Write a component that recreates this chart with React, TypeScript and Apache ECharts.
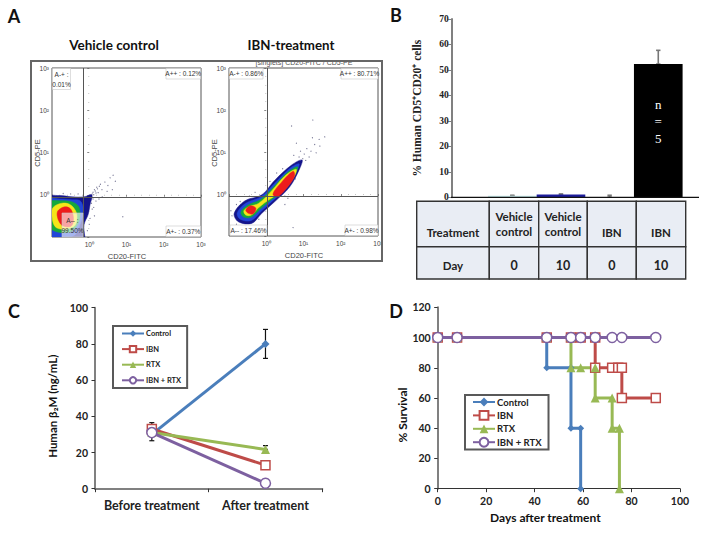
import React, { useEffect, useRef } from "react";
import * as echarts from "echarts";

const SANS = "Lato";
const SERIF = "'Liberation Serif'";
const BLUE = "#4a7ebb";
const RED = "#be4b48";
const GREEN = "#98b954";
const PURPLE = "#7d60a0";

// Panel A: log10 decades, contours of the density plots
const flowTicks: Record<string, string> = { "0": "10⁰", "1": "10¹", "2": "10²", "3": "10³" };
const densityColors = ["#14148a", "#2246d8", "#16a83c", "#f4e61a", "#ee1c1c"];
const vehicleNavy = [[-1.2, -0.07], [-0.79, -0.02], [-0.46, -0.05], [-0.14, -0.05], [0.07, 0], [0.02, -0.24], [-0.03, -0.47], [-0.14, -0.71], [-0.17, -1.2], [-1.2, -1.2]];
const vehicleBlue = [[-1.2, -0.12], [-0.79, -0.1], [-0.46, -0.12], [-0.25, -0.14], [-0.17, -0.28], [-0.17, -0.47], [-0.25, -0.71], [-0.4, -0.96], [-0.8, -1], [-1.2, -0.96]];
const vehicleGreen = [[-1.2, -0.2], [-0.73, -0.14], [-0.46, -0.17], [-0.3, -0.26], [-0.25, -0.4], [-0.28, -0.64], [-0.45, -0.85], [-0.7, -0.9], [-0.95, -0.85], [-1.2, -0.7]];
const vehicleYellow = [[-0.97, -0.3], [-0.73, -0.2], [-0.52, -0.23], [-0.38, -0.36], [-0.33, -0.5], [-0.38, -0.72], [-0.55, -0.8], [-0.72, -0.82], [-0.92, -0.75], [-1, -0.5]];
const vehicleRed = [[-0.84, -0.38], [-0.68, -0.29], [-0.52, -0.32], [-0.44, -0.46], [-0.43, -0.65], [-0.5, -0.75], [-0.7, -0.74], [-0.8, -0.65], [-0.86, -0.5]];
const ibnNavy = [[-0.86, -0.46], [-0.57, -0.16], [-0.12, -0.02], [0.23, 0.33], [0.68, 0.69], [0.96, 0.81], [0.9, 0.61], [0.63, 0.17], [0.23, -0.18], [-0.12, -0.46], [-0.39, -0.7], [-0.75, -0.66]];
const ibnBlue = [[-0.78, -0.45], [-0.55, -0.22], [-0.15, -0.07], [0.22, 0.25], [0.62, 0.6], [0.88, 0.72], [0.82, 0.55], [0.55, 0.15], [0.2, -0.14], [-0.12, -0.4], [-0.4, -0.63], [-0.7, -0.6]];
const ibnGreen = [[-0.68, -0.43], [-0.5, -0.27], [-0.15, -0.13], [0.2, 0.17], [0.55, 0.5], [0.84, 0.65], [0.78, 0.48], [0.5, 0.11], [0.15, -0.13], [-0.15, -0.35], [-0.4, -0.55], [-0.6, -0.55]];
const ibnYellow = [[-0.6, -0.4], [-0.45, -0.3], [-0.2, -0.22], [0.15, 0.08], [0.5, 0.43], [0.8, 0.59], [0.76, 0.43], [0.45, 0.08], [0.1, -0.12], [-0.2, -0.32], [-0.4, -0.5], [-0.55, -0.5]];
const ibnRedUpper = [[0.18, 0], [0.4, 0.27], [0.72, 0.54], [0.76, 0.42], [0.55, 0.14], [0.3, -0.07]];
const ibnRedLower = [[-0.55, -0.38], [-0.42, -0.28], [-0.28, -0.34], [-0.35, -0.47], [-0.48, -0.46]];
const vehicleDots = [[0.1, 0.06], [0.16, 0.09], [0.22, 0.14], [0.27, 0.2], [0.3, 0.25], [0.24, 0.05], [0.34, 0.12], [0.42, 0.3], [0.5, 0.22], [0.56, 0.4], [0.64, 0.46], [0.48, 0.08], [0.35, -0.05], [0.18, -0.15], [0.26, -0.1], [0.9, -0.52], [0.62, 0.12], [0.7, 0.32], [0.12, -0.3], [0.14, -0.5], [0.08, 0.02], [0.12, 0], [0.14, 0.12], [0.18, 0.04], [0.2, 0.18], [0.1, -0.1], [0.06, -0.2], [0.08, -0.34], [0.02, -0.56], [0, -0.7], [-0.05, -0.85], [-0.5, 0.02], [-0.7, 0.03], [-0.3, 0.02]];
const ibnDots = [[1.25, 1.76], [0.68, 1.62], [1.57, 1.36], [1.42, 1.3], [0.81, 1.21], [1.3, 1.18], [1.09, 1.08], [1.2, 1.02], [1.02, 0.95], [1.34, 0.98], [1.15, 0.88], [0.98, 0.84], [1.44, 1.14], [0.92, 1.02], [1.06, 0.8], [0.88, 0.88], [1.24, 1.34], [0.74, 0.92], [0.78, 0.36], [0.58, -0.1], [0.5, -0.25], [0.72, -0.8], [-0.92, -0.52], [-0.95, -0.4], [-0.8, -0.25], [-0.7, -0.18], [-0.45, -0.05], [-0.3, 0.04], [0.1, 0.3], [0.28, 0.5], [0.44, 0.6], [-0.2, -0.6], [-0.55, -0.76], [-0.8, -0.72], [0.5, -0.05]];
const vehicleGate = { x: -0.17, y: -0.07 };
const ibnGate = { x: 0.02, y: -0.05 };

// Panel B
const barValues = [0.6, 1.1, 0.1, 52.3];
const barErrors = [0.8, 1.3, 0.8, 57.7];
const barColors = ["#c6e9e9", "#1c1c9c", "#bdbdbd", "#000000"];
const barCategories = ["Vehicle control day 0", "Vehicle control day 10", "IBN day 0", "IBN day 10"];
const tableHeader = ["Treatment", "Vehicle\ncontrol", "Vehicle\ncontrol", "IBN", "IBN"];
const tableDay = ["Day", "0", "10", "0", "10"];

// Panel C
const phases = ["Before treatment", "After treatment"];
const controlC = [30, 80];
const ibnC = [33, 13];
const rtxC = [31, 21.7];
const comboC = [31, 3];
const errorC = [[0, 26.5, 36.5], [1, 72, 88], [1, 21.7, 23.8]];

// Panel D
const controlD = [[0, 100], [8, 100], [45, 100], [45, 80], [55, 80], [55, 40], [59, 40], [59, 0]];
const ibnD = [[0, 100], [8, 100], [45, 100], [55, 100], [59, 100], [65, 100], [65, 80], [72, 80], [74.5, 80], [76, 80], [76, 60], [90, 60]];
const rtxD = [[0, 100], [8, 100], [45, 100], [55, 100], [55, 80], [59, 80], [65, 80], [65, 60], [72, 60], [72, 40], [75, 40], [75, 0]];
const comboD = [[0, 100], [8, 100], [45, 100], [55, 100], [59, 100], [65, 100], [72, 100], [76, 100], [90, 100]];
const seriesNames = ["Control", "IBN", "RTX", "IBN + RTX"];

const blob = (points: number[][], color: string, idx: number) => ({
  type: "custom",
  xAxisIndex: idx,
  yAxisIndex: idx,
  silent: true,
  clip: true,
  z: 2,
  data: [[points[0][0], points[0][1]]],
  renderItem: (_p: any, api: any) => ({
    type: "polygon",
    shape: { points: points.map((pt) => api.coord(pt)), smooth: 0.35 },
    style: { fill: color, stroke: color, lineWidth: 0.5 },
  }),
});

const gates = (g: { x: number; y: number }, idx: number) => ({
  type: "line",
  xAxisIndex: idx,
  yAxisIndex: idx,
  silent: true,
  symbol: "none",
  data: [],
  z: 4,
  markLine: {
    silent: true,
    symbol: "none",
    animation: false,
    label: { show: false },
    lineStyle: { color: "#555", width: 1, type: "solid" },
    data: [{ xAxis: g.x }, { yAxis: g.y }],
  },
});

const dots = (points: number[][], idx: number) => ({
  type: "scatter",
  xAxisIndex: idx,
  yAxisIndex: idx,
  silent: true,
  symbolSize: 1.2,
  itemStyle: { color: "#55557a" },
  data: points,
  z: 3,
});

const errorBars = (rows: number[][], idx: number, color: string, lineWidth: number, cap: number) => ({
  type: "custom",
  xAxisIndex: idx,
  yAxisIndex: idx,
  silent: true,
  z: 3,
  data: rows,
  renderItem: (_p: any, api: any) => {
    const lo = api.coord([api.value(0), api.value(1)]);
    const hi = api.coord([api.value(0), api.value(2)]);
    const style = { stroke: color, lineWidth };
    return {
      type: "group",
      children: [
        { type: "line", shape: { x1: lo[0], y1: lo[1], x2: hi[0], y2: hi[1] }, style },
        { type: "line", shape: { x1: hi[0] - cap, y1: hi[1], x2: hi[0] + cap, y2: hi[1] }, style },
        { type: "line", shape: { x1: lo[0] - cap, y1: lo[1], x2: lo[0] + cap, y2: lo[1] }, style },
      ],
    };
  },
});

const marker = (name: string, color: string, symbol: string, size: number, hollow: boolean, data: any, idx: number) => ({
  type: "line",
  name,
  xAxisIndex: idx,
  yAxisIndex: idx,
  data,
  symbol,
  symbolSize: size,
  showSymbol: true,
  showAllSymbol: true,
  lineStyle: { color, width: 3 },
  itemStyle: { color: hollow ? "#fff" : color, borderColor: color, borderWidth: hollow ? 1.5 : 0 },
  z: 5,
});

const flowAxis = (idx: number, left: boolean) => ({
  type: "value",
  gridIndex: idx,
  min: -1,
  max: 3,
  interval: 1,
  axisLine: { show: false },
  splitLine: { show: false },
  axisTick: { show: true, length: 2, lineStyle: { color: "#555", width: 0.7 } },
  minorTick: { show: true, splitNumber: 5, length: 1, lineStyle: { color: "#888", width: 0.5 } },
  axisLabel: {
    fontSize: 6.5,
    color: "#444",
    fontFamily: "'Liberation Sans'",
    margin: left ? 3 : 4,
    showMinLabel: false,
    formatter: (v: number) => flowTicks[String(v)] ?? "",
  },
});

const boldAxisLabel = { fontFamily: SANS, fontWeight: "bold", fontSize: 10.5, color: "#222", margin: 7 };
const grayLine = { show: true, onZero: false, lineStyle: { color: "#808080", width: 2 } };
const darkTick = { show: true, length: 3.5, lineStyle: { color: "#333", width: 1 } };

export default function App() {
  const ref = useRef<HTMLDivElement>(null);
  useEffect(() => {
    document.body.style.margin = "0";
    const chart = echarts.init(ref.current!, undefined, { renderer: "svg" });

    const graphic: any[] = [];
    const text = (t: string, x: number, y: number, o: any = {}) =>
      graphic.push({
        type: "text",
        x,
        y,
        rotation: o.rotation ?? 0,
        z: o.z ?? 20,
        silent: true,
        style: {
          text: t,
          fontFamily: o.font ?? SANS,
          fontWeight: o.weight ?? "bold",
          fontSize: o.size ?? 12,
          fill: o.fill ?? "#111",
          align: o.align ?? "center",
          verticalAlign: "middle",
          lineHeight: o.lh,
        },
      });
    const rect = (x: number, y: number, w: number, h: number, fill: string, stroke = "none", lineWidth = 0, z = 15) =>
      graphic.push({ type: "rect", silent: true, z, shape: { x, y, width: w, height: h }, style: { fill, stroke, lineWidth } });
    const hline = (x1: number, x2: number, y: number, stroke: string, lineWidth: number, z = 20) =>
      graphic.push({ type: "line", silent: true, z, shape: { x1, y1: y, x2, y2: y }, style: { stroke, lineWidth } });

    // Panel letters and headings
    text("A", 14, 16, { size: 18 });
    text("B", 396, 15, { size: 18 });
    text("C", 14, 311, { size: 18 });
    text("D", 396, 311, { size: 18 });
    text("Vehicle control", 114, 45, { size: 13.5 });
    text("IBN-treatment", 291, 45, { size: 13.3 });

    // Panel A: clipped gate header, outer frame, axis names, quadrant labels
    text("[singlets] CD20-FITC / CD5-PE", 304, 62.5, { size: 7, weight: "normal", font: "'Liberation Sans'", fill: "#555", z: 10 });
    rect(222, 50, 160, 11, "#fff", "none", 0, 11);
    rect(31, 61, 351, 200, "none", "#666", 2, 12);
    const quad = (lines: string, x: number, y: number, w: number, h: number, bg = "rgba(255,255,255,0.9)") => {
      rect(x, y, w, h, bg, "#c8c8c8", 0.6, 14);
      text(lines, x + w / 2, y + h / 2, { size: 6.5, weight: "normal", font: "'Liberation Sans'", fill: "#333", lh: 10 });
    };
    quad("A-+ :\n0.01%", 52.5, 68.5, 18, 21);
    quad("A++ : 0.12%", 166, 68.5, 34.5, 10.5);
    quad("A+- : 0.37%", 166, 226, 34.5, 10.5);
    quad("A-- :\n99.50%", 62, 213, 21, 24, "rgba(255,255,255,0.6)");
    quad("A-+ : 0.86%", 229.5, 68.5, 33.5, 10.5);
    quad("A++ : 80.71%", 341, 68.5, 37, 10.5);
    quad("A-- : 17.46%", 230, 225, 37, 10.5);
    quad("A+- : 0.98%", 345, 225, 33, 10.5);
    const small = { size: 7.5, weight: "normal", font: "'Liberation Sans'", fill: "#444" };
    text("CD20-FITC", 127, 256, small);
    text("CD20-FITC", 304, 255, small);
    text("CD5-PE", 37, 153, { ...small, rotation: Math.PI / 2 });
    text("CD5-PE", 214, 153, { ...small, rotation: Math.PI / 2 });

    // Panel B: x-axis extension and the table under the bars
    hline(451, 699, 197.3, "#111", 1.3);
    const colX = [416.7, 489.3, 538.7, 587.3, 636.3, 685.7];
    const rowY = [201.3, 246.7, 279];
    tableHeader.forEach((label, i) => {
      const w = colX[i + 1] - colX[i];
      rect(colX[i], rowY[0], w, rowY[1] - rowY[0], "#e9edf4", "#333", 1.4);
      rect(colX[i], rowY[1], w, rowY[2] - rowY[1], "#e9edf4", "#333", 1.4);
      const multi = label.includes("\n");
      text(label, colX[i] + w / 2, multi ? 224 : 232, { size: 11.5, lh: 15, fill: "#222" });
      text(tableDay[i], colX[i] + w / 2, 265, { size: i === 0 ? 11.5 : 12.5, fill: "#222" });
    });

    chart.setOption({
      animation: false,
      backgroundColor: "#fff",
      grid: [
        { left: 52, top: 68, width: 149, height: 169, show: true, borderColor: "#555", borderWidth: 1 },
        { left: 229, top: 68, width: 149, height: 168, show: true, borderColor: "#555", borderWidth: 1 },
        { left: 488, top: 19, width: 194.6, height: 178.3 },
        { left: 95, top: 307.7, width: 227.3, height: 181 },
        { left: 437.7, top: 307.3, width: 242.3, height: 181.4 },
      ],
      xAxis: [
        flowAxis(0, false),
        flowAxis(1, false),
        {
          type: "category",
          gridIndex: 2,
          data: barCategories,
          axisLine: { show: false },
          axisTick: { show: false },
          axisLabel: { show: false },
        },
        {
          type: "category",
          gridIndex: 3,
          data: phases,
          axisLine: grayLine,
          axisTick: { ...darkTick, alignWithLabel: false },
          axisLabel: { ...boldAxisLabel, fontSize: 12.5, margin: 10, interval: 0 },
        },
        {
          type: "value",
          gridIndex: 4,
          min: 0,
          max: 100,
          interval: 20,
          axisLine: { show: true, lineStyle: { color: "#333", width: 1.2 } },
          axisTick: darkTick,
          splitLine: { show: false },
          axisLabel: boldAxisLabel,
          name: "Days after treatment",
          nameLocation: "middle",
          nameGap: 23,
          nameTextStyle: { fontFamily: SANS, fontWeight: "bold", fontSize: 12, color: "#111", padding: [0, 27, 0, 0] },
        },
      ],
      yAxis: [
        flowAxis(0, true),
        flowAxis(1, true),
        {
          type: "value",
          gridIndex: 2,
          min: 0,
          max: 70,
          interval: 10,
          offset: 36.3,
          axisLine: grayLine,
          axisTick: { show: true, length: 3.5, lineStyle: { color: "#808080", width: 1 } },
          splitLine: { show: false },
          axisLabel: { fontFamily: SERIF, fontWeight: "bold", fontSize: 9.5, color: "#222", margin: 3 },
          name: "% Human CD5⁺CD20⁺ cells",
          nameLocation: "middle",
          nameGap: 29,
          nameTextStyle: { fontFamily: SERIF, fontWeight: "bold", fontSize: 11.5, color: "#222" },
        },
        {
          type: "value",
          gridIndex: 3,
          min: 0,
          max: 100,
          interval: 20,
          axisLine: grayLine,
          axisTick: darkTick,
          splitLine: { show: false },
          axisLabel: boldAxisLabel,
          name: "Human β₂M (ng/mL)",
          nameLocation: "middle",
          nameGap: 37,
          nameTextStyle: { fontFamily: SANS, fontWeight: "bold", fontSize: 11.5, color: "#111", padding: [0, 16, 0, 0] },
        },
        {
          type: "value",
          gridIndex: 4,
          min: 0,
          max: 120,
          interval: 20,
          axisLine: grayLine,
          axisTick: darkTick,
          splitLine: { show: false },
          axisLabel: boldAxisLabel,
          name: "% Survival",
          nameLocation: "middle",
          nameGap: 25,
          nameTextStyle: { fontFamily: SANS, fontWeight: "bold", fontSize: 12, color: "#111", padding: [0, 34, 0, 0] },
        },
      ],
      legend: [
        {
          data: seriesNames,
          orient: "vertical",
          left: 113,
          top: 326,
          selectedMode: false,
          itemWidth: 22,
          itemHeight: 8,
          itemGap: 7.4,
          padding: [3.5, 6, 3.5, 8],
          borderColor: "#595959",
          borderWidth: 2,
          backgroundColor: "#fff",
          textStyle: { fontFamily: SANS, fontWeight: "bold", fontSize: 7.5, color: "#222", padding: [0, 0, 0, -3] },
        },
        {
          data: seriesNames,
          orient: "vertical",
          left: 465,
          top: 395,
          selectedMode: false,
          itemWidth: 22,
          itemHeight: 11,
          itemGap: 3,
          padding: [2, 7, 2, 7],
          borderColor: "#595959",
          borderWidth: 2,
          backgroundColor: "#fff",
          textStyle: { fontFamily: SANS, fontWeight: "bold", fontSize: 9.5, color: "#222", padding: [0, 0, 0, -3] },
        },
      ],
      series: [
        ...[vehicleNavy, vehicleBlue, vehicleGreen, vehicleYellow, vehicleRed].map((p, i) => blob(p, densityColors[i], 0)),
        dots(vehicleDots, 0),
        gates(vehicleGate, 0),
        ...[ibnNavy, ibnBlue, ibnGreen, ibnYellow].map((p, i) => blob(p, densityColors[i], 1)),
        blob(ibnRedUpper, densityColors[4], 1),
        blob(ibnRedLower, densityColors[4], 1),
        dots(ibnDots, 1),
        gates(ibnGate, 1),
        {
          type: "bar",
          xAxisIndex: 2,
          yAxisIndex: 2,
          barWidth: "100%",
          silent: true,
          z: 3,
          data: barValues.map((value, i) => ({
            value,
            itemStyle: { color: barColors[i] },
            label:
              i === 3
                ? {
                    show: true,
                    position: "inside",
                    offset: [0, -9],
                    formatter: "n\n=\n5",
                    color: "#fff",
                    fontFamily: SERIF,
                    fontSize: 13,
                    lineHeight: 17,
                  }
                : { show: false },
          })),
        },
        errorBars(barValues.map((v, i) => [i, v, barErrors[i]]), 2, "#777", 1.6, 2.2),
        errorBars(errorC, 3, "#111", 1.2, 2.5),
        marker("Control", BLUE, "diamond", 8, false, controlC, 3),
        marker("IBN", RED, "rect", 9, true, ibnC, 3),
        marker("RTX", GREEN, "triangle", 9, false, rtxC, 3),
        marker("IBN + RTX", PURPLE, "circle", 10, true, comboC, 3),
        marker("Control", BLUE, "diamond", 7, false, controlD, 4),
        marker("IBN", RED, "rect", 9, true, ibnD, 4),
        marker("RTX", GREEN, "triangle", 9, false, rtxD, 4),
        marker("IBN + RTX", PURPLE, "circle", 10, true, comboD, 4),
      ],
      graphic,
    });
    return () => chart.dispose();
  }, []);
  return <div ref={ref} style={{ position: "absolute", left: 0, top: 0, width: 709, height: 533 }} />;
}
